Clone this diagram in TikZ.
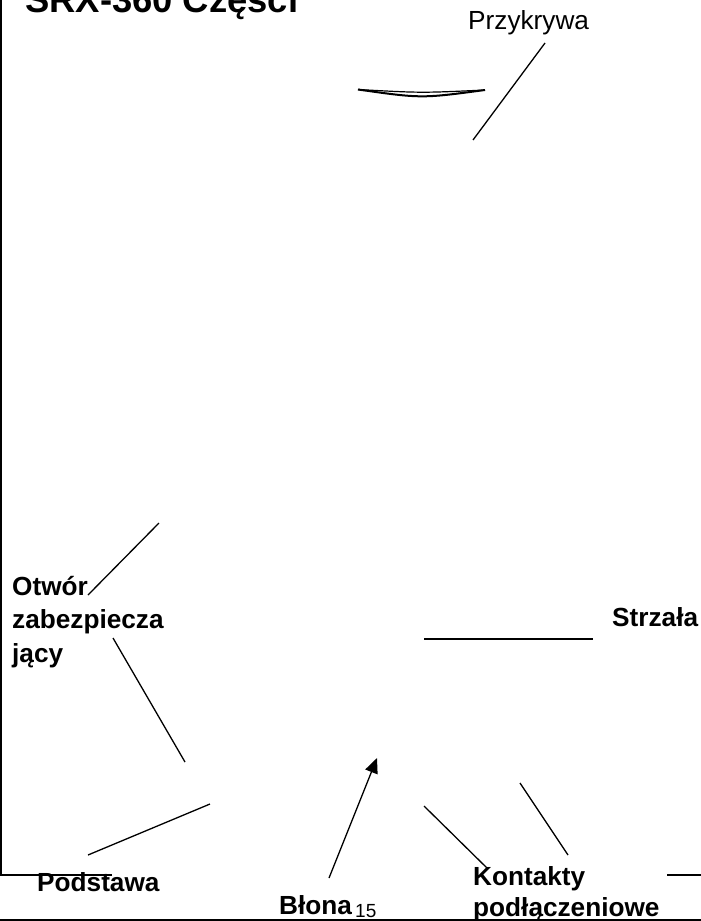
\documentclass[tikz,border=0pt]{standalone}
\usepackage{fontspec}
\setmainfont{Liberation Sans}
\usetikzlibrary{arrows.meta}
\begin{document}
\begin{tikzpicture}[x=1pt,y=-1pt,
  lbl/.style={inner sep=0pt, anchor=base west, font=\fontsize{26.2}{30}\selectfont\bfseries},
  plain/.style={inner sep=0pt, anchor=base west, font=\fontsize{26.2}{30}\selectfont},
  small/.style={inner sep=0pt, anchor=base west, font=\fontsize{19}{22}\selectfont},
  ttl/.style={inner sep=0pt, anchor=base west, font=\fontsize{36.4}{42}\selectfont\bfseries},
  leader/.style={line width=1.3pt},
  frame/.style={line width=2pt},
  lid/.style={line width=1.2pt},
  lidbottom/.style={line width=2pt}]
\useasboundingbox (0,0) rectangle (701,921);
% frame
\coordinate (fTop) at (1,0);
\coordinate (fCorner) at (1,875);
\coordinate (fEnd) at (112,875);
\draw[frame] (fTop) -- (fCorner) -- (fEnd);
\coordinate (rA) at (667,875);
\coordinate (rB) at (701,875);
\draw[frame] (rA) -- (rB);
\coordinate (bA) at (0,920);
\coordinate (bB) at (701,920);
\draw[frame] (bA) -- (bB);
% texts
\node[ttl] (title) at (25,12) {SRX-360 Części};
\node[plain] (przyk) at (468,29.5) {Przykrywa};
\node[lbl] (otw1) at (12,595) {Otwór};
\node[lbl] (otw2) at (12,628) {zabezpiecza};
\node[lbl] (otw3) at (12,662) {jący};
\node[lbl] (strz) at (612,626.5) {Strzała};
\node[lbl] (podst) at (37,891) {Podstawa};
\node[lbl] (blona) at (279,914) {Błona};
\node[small] (n15) at (355,917) {15};
\node[lbl] (kont1) at (473,885) {Kontakty};
\node[lbl] (kont2) at (473,916) {podłączeniowe};
% lid
\coordinate (lidL) at (358,89.5);
\coordinate (lidR) at (485,90);
\draw[lid] (lidL) .. controls (421.5,93) .. (lidR);
\draw[lidbottom] (lidL) .. controls (421.5,98.5) .. (lidR);
% leaders
\coordinate (pA) at (545,43);
\coordinate (pB) at (473,140);
\draw[leader] (pA) -- (pB);
\coordinate (oA1) at (159,523);
\coordinate (oA2) at (88,595);
\draw[leader] (oA1) -- (oA2);
\coordinate (oB1) at (113,638);
\coordinate (oB2) at (185,762);
\draw[leader] (oB1) -- (oB2);
\coordinate (sA) at (424,639);
\coordinate (sB) at (593,639);
\draw[leader] (sA) -- (sB);
\coordinate (poA) at (210,804);
\coordinate (poB) at (88,855);
\draw[leader] (poA) -- (poB);
\coordinate (bl1) at (329,878);
\coordinate (bl2) at (377,758);
\draw[leader,-{Triangle[length=15pt,width=13pt]}] (bl1) -- (bl2);
\coordinate (k1A) at (424,806);
\coordinate (k1B) at (488,869);
\draw[leader] (k1A) -- (k1B);
\coordinate (k2A) at (520,783);
\coordinate (k2B) at (568,855);
\draw[leader] (k2A) -- (k2B);
\end{tikzpicture}
\end{document}
